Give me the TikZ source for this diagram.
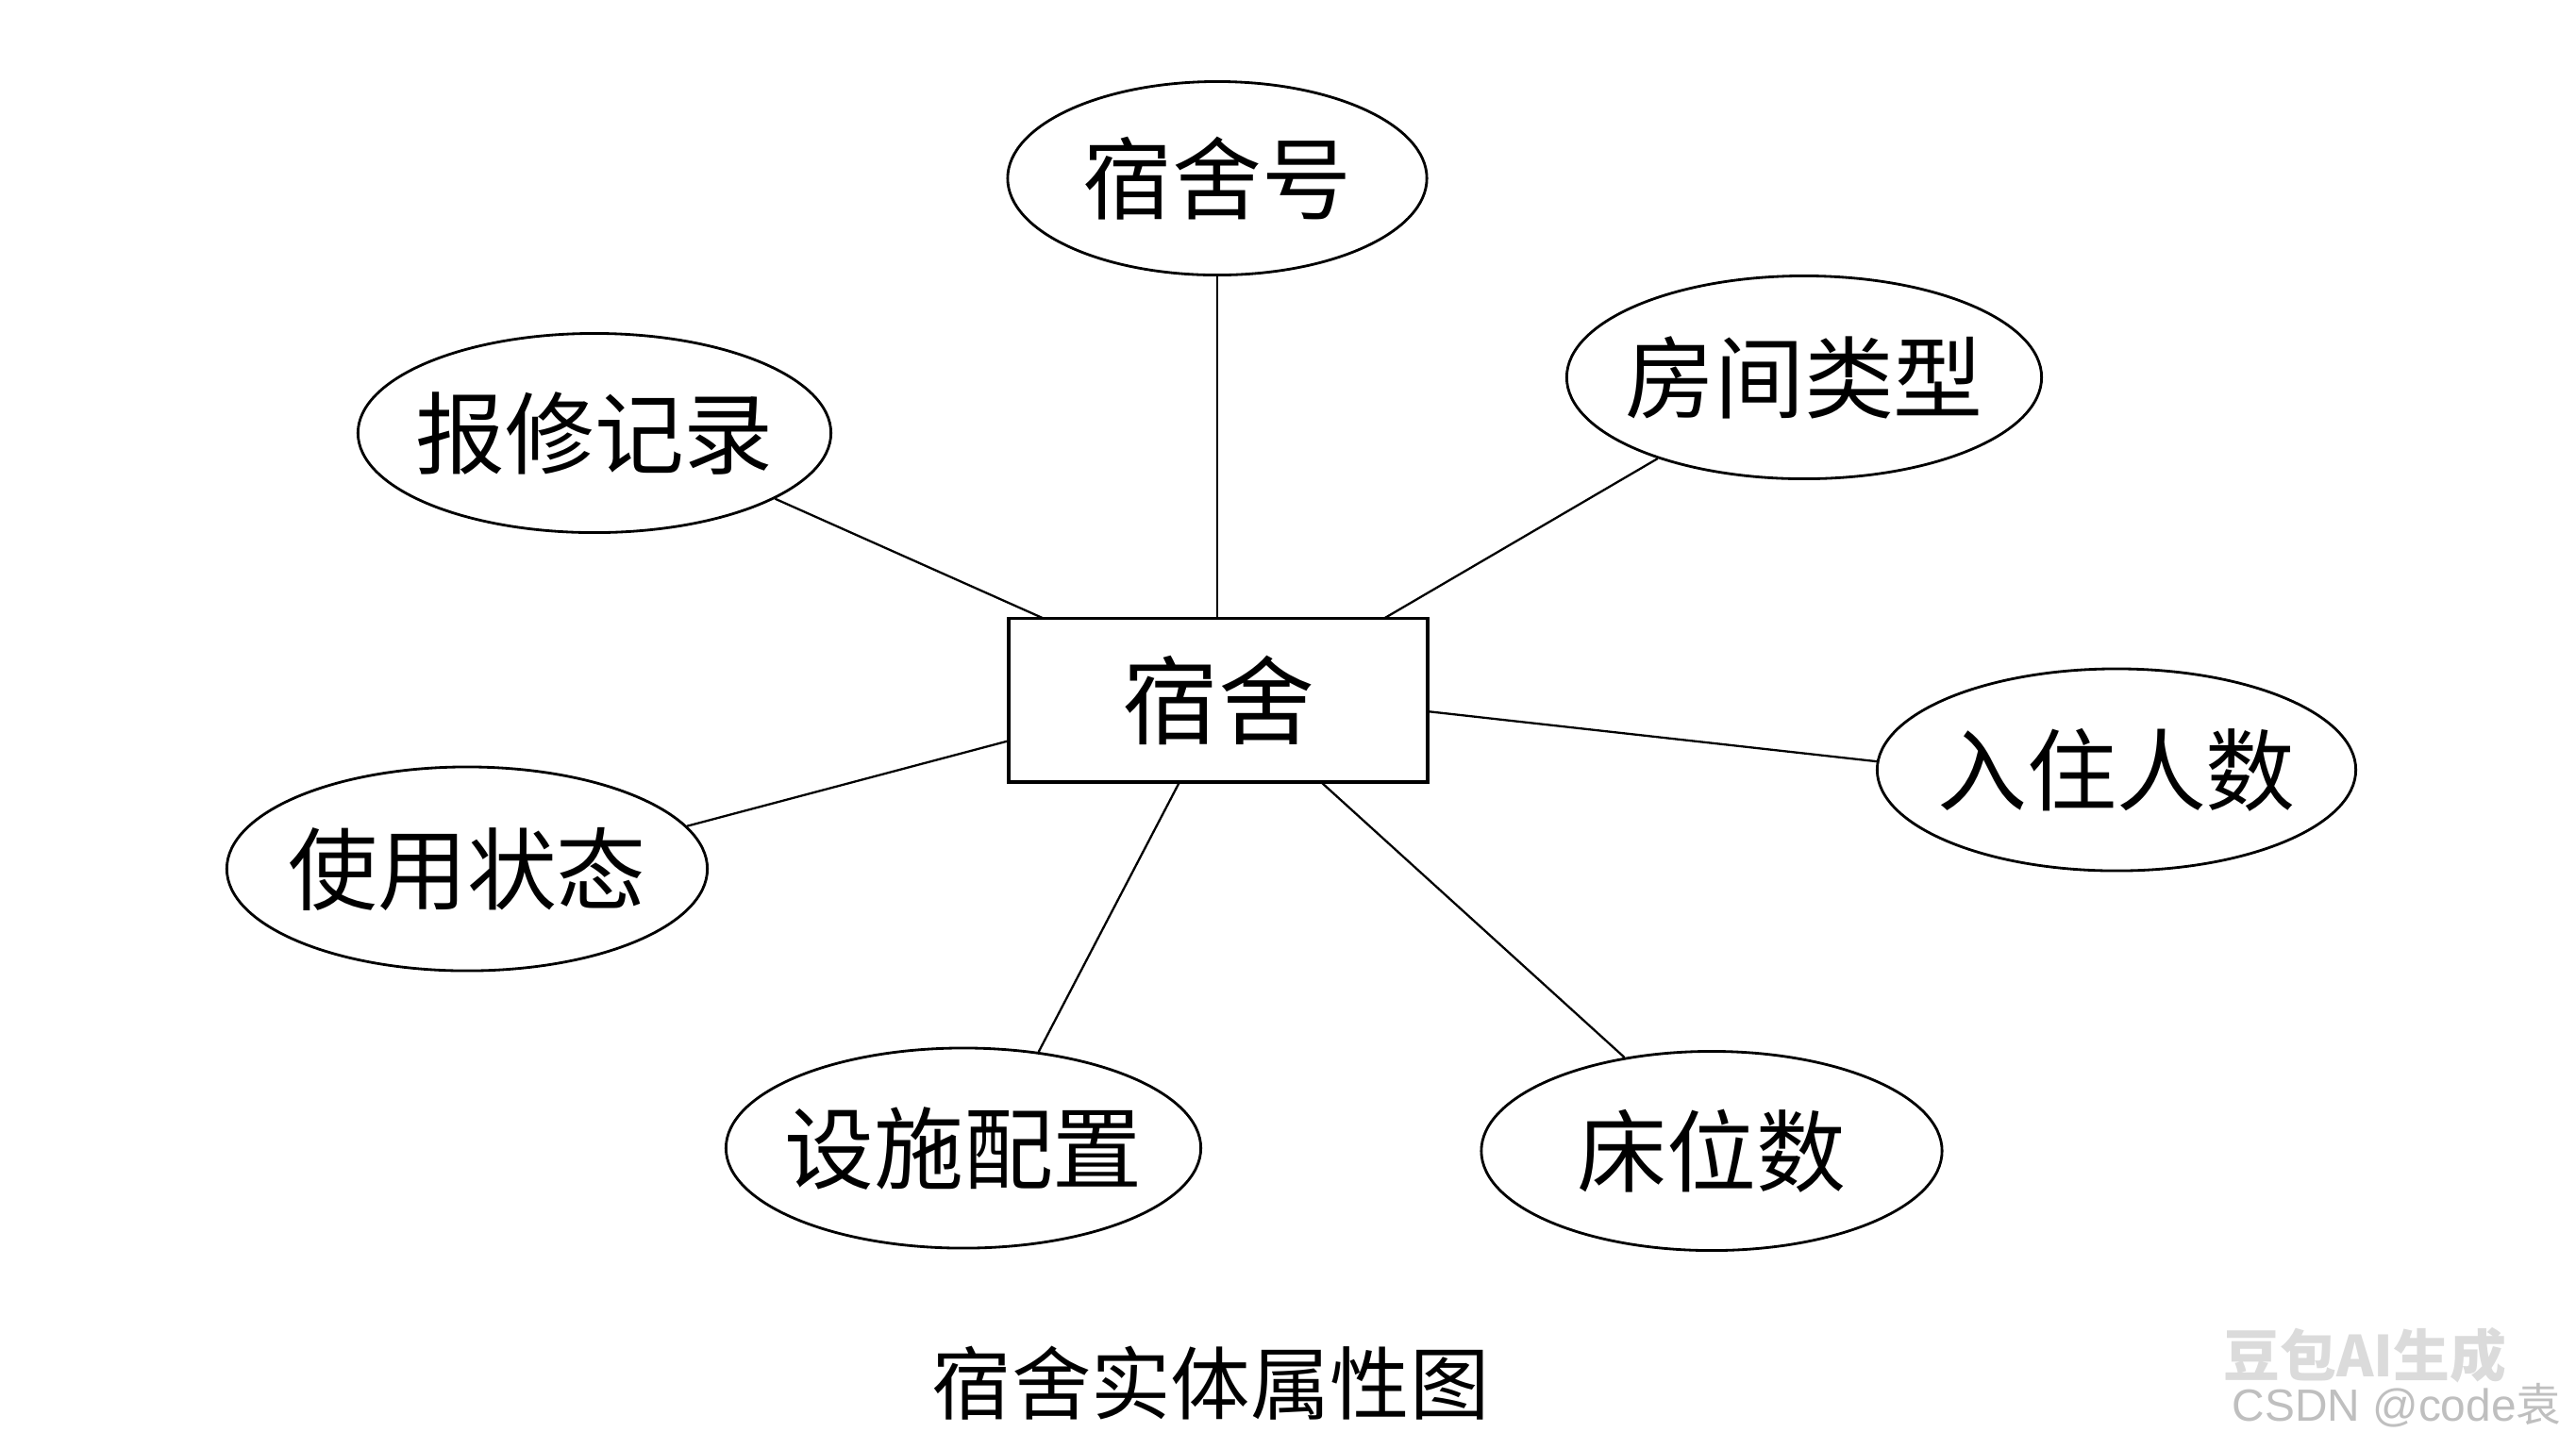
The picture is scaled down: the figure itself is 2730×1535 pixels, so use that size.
\documentclass[tikz,border=0pt]{standalone}
\usepackage{fontspec}
\setmainfont{Noto Sans CJK SC}
\newfontfamily\cjk{Noto Sans CJK SC}
\newfontfamily\latinsans{Liberation Sans}
\usetikzlibrary{shapes.geometric}
\tikzset{
  attr/.style={draw=black, line width=0.8pt, ellipse, inner sep=0pt},
  attrtext/.style={inner sep=0pt, font=\cjk\fontsize{27pt}{30pt}\selectfont},
  entity/.style={draw=black, line width=1.1pt, rectangle, inner sep=0pt, minimum width=4.43cm, minimum height=1.73cm, font=\cjk\fontsize{29pt}{32pt}\selectfont},
  link/.style={draw=black, line width=0.65pt},
  title/.style={font=\cjk\fontsize{24pt}{28pt}\selectfont},
}
\begin{document}
\begin{tikzpicture}[x=0.01cm,y=-0.01cm]
\fill[white] (0,0) rectangle (2730,1535);
\useasboundingbox (0,0) rectangle (2730,1535);

\node[entity] (room) at (1291,742) {宿舍};

\node[attr, minimum width=4.44cm, minimum height=2.05cm] (num) at (1290,189) {};
\node[attr, minimum width=5.03cm, minimum height=2.15cm] (type) at (1912,400) {};
\node[attr, minimum width=5.01cm, minimum height=2.11cm] (repair) at (630,459) {};
\node[attr, minimum width=5.07cm, minimum height=2.14cm] (people) at (2243,816) {};
\node[attr, minimum width=5.09cm, minimum height=2.16cm] (state) at (495,921) {};
\node[attr, minimum width=5.03cm, minimum height=2.12cm] (equip) at (1021,1217) {};
\node[attr, minimum width=4.88cm, minimum height=2.11cm] (beds) at (1814,1220) {};

\node[attrtext] (numt) at (num) {宿舍号};
\node[attrtext] (typet) at (type) {房间类型};
\node[attrtext] (repairt) at (repair) {报修记录};
\node[attrtext] (peoplet) at (people) {入住人数};
\node[attrtext] (statet) at (state) {使用状态};
\node[attrtext] (equipt) at (equip) {设施配置};
\node[attrtext] (bedst) at (beds) {床位数};

\coordinate (pnum) at (1290,656);
\coordinate (ptype) at (1466,656);
\coordinate (prepair) at (1107,656);
\coordinate (ppeople) at (1512,754);
\coordinate (pstate) at (1070,785);
\coordinate (pequip) at (1250,829);
\coordinate (pbeds) at (1400,829);

\draw[link] (pnum) -- (num.270);
\draw[link] (ptype) -- (type.209.5);
\draw[link] (prepair) -- (repair.340);
\draw[link] (ppeople) -- (people.178);
\draw[link] (pstate) -- (state.11.4);
\draw[link] (pequip) -- (equip.52.5);
\draw[link] (pbeds) -- (beds.133.8);

\node[title] (caption) at (1283,1466) {宿舍实体属性图};

\node[font=\cjk\bfseries\fontsize{17pt}{20pt}\selectfont, text=black!14, anchor=west, inner sep=0pt] (wm) at (2356,1437) {豆包AI生成};
\node[font=\latinsans\fontsize{13.6pt}{16pt}\selectfont, text=black!25, anchor=west, inner sep=0pt] (csdn) at (2365,1490) {CSDN @code\cjk 袁};
\end{tikzpicture}
\end{document}
